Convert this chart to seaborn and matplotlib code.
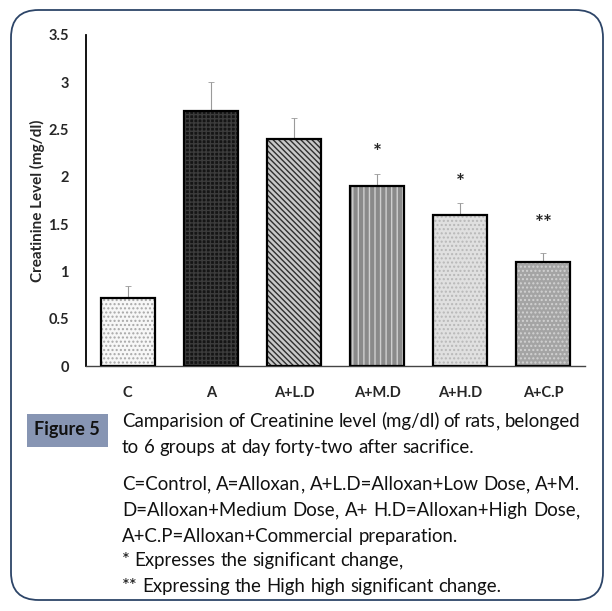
import numpy as np
import pandas as pd
import seaborn as sns
import matplotlib.pyplot as plt
from matplotlib.patches import Rectangle, FancyBboxPatch
from matplotlib.font_manager import FontProperties

groups = ['C', 'A', 'A+L.D', 'A+M.D', 'A+H.D', 'A+C.P']
creatinine = [0.72, 2.70, 2.40, 1.90, 1.60, 1.10]
sd = [0.13, 0.30, 0.22, 0.13, 0.12, 0.10]
marks = ['', '', '', '*', '*', '**']
yticks = [0, 0.5, 1, 1.5, 2, 2.5, 3, 3.5]

caption_par1 = ['Camparision of Creatinine level (mg/dl) of rats, belonged',
                'to 6 groups at day forty-two after sacrifice.']
caption_par2 = ['C=Control, A=Alloxan, A+L.D=Alloxan+Low Dose, A+M.',
                'D=Alloxan+Medium Dose, A+ H.D=Alloxan+High Dose,',
                'A+C.P=Alloxan+Commercial preparation.']
note1 = '* Expresses the significant change,'
note2 = '** Expressing the High high significant change.'

sns.set_style('white')
plt.rcParams['font.family'] = ['Lato', 'DejaVu Sans']

df = pd.DataFrame({'group': groups, 'value': creatinine})

fig = plt.figure(figsize=(6.12, 6.11), dpi=100)
ax = fig.add_axes([86/612, 1-366/611, (585-86)/612, (366-35)/611])

faces = ['#f7f7f7', '#151515', '#c8c8c8', '#8a8a8a', '#e0e0e0', '#a4a4a4']
hatch_cols = ['#a8a8a8', '#3c3c3c', '#2e2e2e', '#cfcfcf', '#b8b8b8', '#d2d2d2']
hatches = ['....', '++++', '\\\\\\\\\\\\', '|||', '....', '....']

sns.barplot(data=df, x='group', y='value', ax=ax, width=0.65, color='white')
for p, fc, hc, h in zip(ax.patches, faces, hatch_cols, hatches):
    p.set_facecolor(fc)
    p.set_edgecolor(hc)
    p.set_hatch(h)
    p.set_linewidth(0)
    ax.add_patch(Rectangle(p.get_xy(), p.get_width(), p.get_height(),
                           fill=False, ec='black', lw=1.6, zorder=3))

ax.errorbar(x=np.arange(len(groups)), y=creatinine,
            yerr=[np.zeros(len(groups)), sd], fmt='none',
            ecolor='#9a9a9a', elinewidth=0.8, capsize=2, capthick=0.6, zorder=2)

for i, (v, e, m) in enumerate(zip(creatinine, sd, marks)):
    if m:
        off = 0.22 if len(m) == 1 else 0.30
        ax.text(i, v + e + off, m, ha='center', va='center', fontsize=15,
                fontweight='bold')

ax.set_ylim(0, 3.5)
ax.set_xlim(-0.5, 5.5)
ax.set_yticks(yticks)
ax.set_yticklabels([f'{t:g}' for t in yticks], fontsize=10.5, fontweight='bold')
ax.tick_params(axis='x', labelsize=10.5, pad=11)
for lab in ax.get_xticklabels():
    lab.set_fontweight('bold')
ax.tick_params(axis='y', pad=9)
ax.set_xlabel('')
ax.set_ylabel('Creatinine Level (mg/dl)', fontsize=11, fontweight='bold', labelpad=2)
sns.despine(ax=ax)
ax.spines['left'].set_color('black')
ax.spines['left'].set_linewidth(1.3)
ax.spines['bottom'].set_color('#444444')
ax.spines['bottom'].set_linewidth(1.0)

# outer rounded frame
fig.patches.append(FancyBboxPatch((11/612, 11/611), (603-11)/612, (601-11)/611,
                                  boxstyle='round,pad=0,rounding_size=0.045',
                                  transform=fig.transFigure, fill=False,
                                  ec='#2d4568', lw=1.3))

# Figure label box
fig.patches.append(Rectangle((27/612, 1-447/611), 81/612, 33/611,
                             transform=fig.transFigure, fc='#8795b3', ec='none'))
fig.text(67/612, 1-430/611, 'Figure 5', ha='center', va='center',
         fontsize=13, fontweight='bold', color='#111111')

# caption text, justified like the journal layout
renderer = fig.canvas.get_renderer()
left, right = 122, 580
fs = 13.4
prop = FontProperties(family=['Lato', 'DejaVu Sans'], size=fs)


def word_width(w):
    return renderer.get_text_width_height_descent(w, prop, ismath=False)[0]


def put(x, ybase, s):
    # a trailing comma shifts the baseline of its word, so draw it on its own
    core, tail = (s[:-1], s[-1]) if s.endswith(',') and len(s) > 1 else (s, '')
    fig.text(x/612, 1 - ybase/611, core, fontproperties=prop,
             va='baseline', color='#111111')
    if tail:
        fig.text((x + word_width(core))/612, 1 - ybase/611, tail,
                 fontproperties=prop, va='baseline', color='#111111')


def draw_line(words, yb, justify):
    widths = [word_width(w) for w in words]
    if justify and len(words) > 1:
        gap = (right - left - sum(widths)) / (len(words) - 1)
    else:
        gap = word_width('a a') - word_width('aa')
    x = left
    for w, ww in zip(words, widths):
        put(x, yb, w)
        x += ww + gap


def draw_par(lines, y0, step):
    for k, line in enumerate(lines):
        draw_line(line.split(), y0 + k * step, k < len(lines) - 1)


draw_par(caption_par1, 427, 26)
draw_par(caption_par2, 490, 26)
draw_line(note1.split(), 566, False)
draw_line(note2.split(), 592, False)

fig.savefig('out.png', dpi=100)
